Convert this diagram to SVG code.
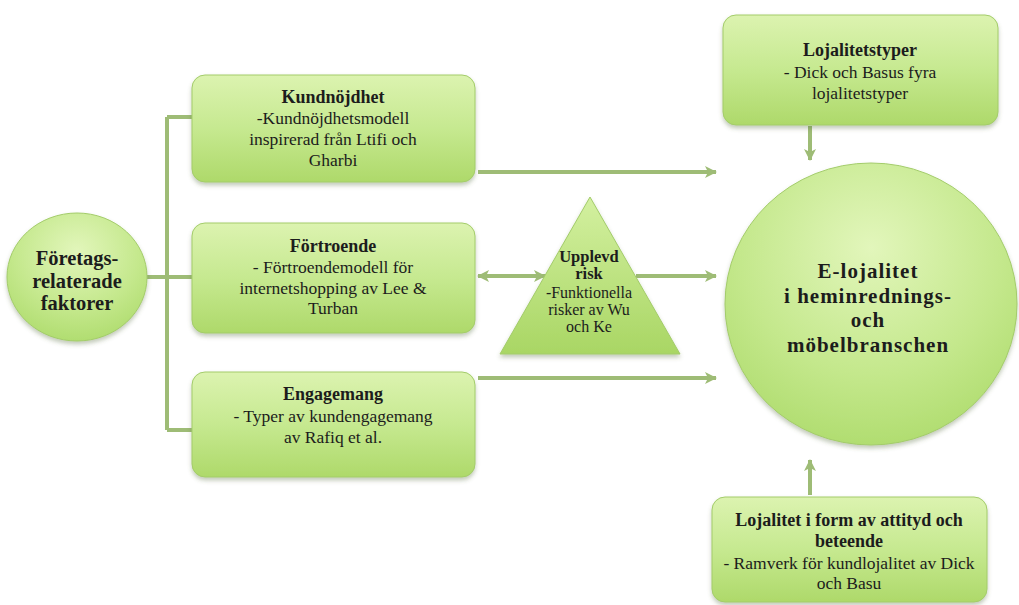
<svg xmlns="http://www.w3.org/2000/svg" width="1019" height="605" viewBox="0 0 1019 605">
  <defs>
    <linearGradient id="boxFill" x1="0" y1="0" x2="0" y2="1">
      <stop offset="0" stop-color="#dcf3b0"/>
      <stop offset="0.5" stop-color="#c6e990"/>
      <stop offset="1" stop-color="#aed96a"/>
    </linearGradient>
    <radialGradient id="ballFill" cx="0.5" cy="0.3" r="0.75">
      <stop offset="0" stop-color="#e2f6bb"/>
      <stop offset="0.6" stop-color="#c4e88c"/>
      <stop offset="1" stop-color="#addb6b"/>
    </radialGradient>
    <linearGradient id="triFill" x1="0" y1="0" x2="0" y2="1">
      <stop offset="0" stop-color="#d3f0a0"/>
      <stop offset="1" stop-color="#a9d664"/>
    </linearGradient>
    <filter id="shadow" x="-10%" y="-10%" width="120%" height="130%">
      <feDropShadow dx="0" dy="3" stdDeviation="2" flood-color="#556b3a" flood-opacity="0.35"/>
    </filter>
    <marker id="head" viewBox="0 0 12 12" refX="11" refY="6" markerWidth="12" markerHeight="12" markerUnits="userSpaceOnUse" orient="auto-start-reverse">
      <path d="M0,0 L12,6 L0,12 L3,6 Z" fill="#9ebc76"/>
    </marker>
  </defs>
  <style>
    .node { stroke: #a3cc6a; stroke-width: 1; filter: url(#shadow); }
    .box { fill: url(#boxFill); }
    .ball { fill: url(#ballFill); }
    .wire { fill: none; stroke: #9ebc76; stroke-width: 4; }
    .arrow { marker-end: url(#head); }
    .both { marker-start: url(#head); marker-end: url(#head); }
    text { font-family: "Liberation Serif", "Times New Roman", serif; fill: #1c1c1c; text-anchor: middle; }
    .t { font-size: 17.5px; }
    .h { font-size: 18px; font-weight: bold; }
    .s { font-size: 16px; }
    .sh { font-size: 16.5px; font-weight: bold; }
    .big { font-size: 21px; font-weight: bold; letter-spacing: 1px; }
    .mid { font-size: 20.5px; font-weight: bold; }
  </style>

  <!-- connectors -->
  <g id="connectors">
    <path class="wire" d="M147,277 H192 M167,117 V430 M167,117 H192 M167,430 H192"/>
    <line class="wire arrow" x1="478" y1="172" x2="716" y2="172"/>
    <line class="wire both" x1="478" y1="276" x2="545" y2="276"/>
    <line class="wire arrow" x1="636" y1="276" x2="716" y2="276"/>
    <line class="wire arrow" x1="478" y1="378" x2="716" y2="378"/>
    <line class="wire arrow" x1="810" y1="126" x2="810" y2="160"/>
    <line class="wire arrow" x1="810" y1="495" x2="810" y2="460"/>
  </g>

  <g id="foretag">
    <ellipse class="node ball" cx="77" cy="277" rx="70" ry="64"/>
    <text class="mid" x="77" y="265">Företags-</text>
    <text class="mid" x="77" y="288">relaterade</text>
    <text class="mid" x="77" y="310">faktorer</text>
  </g>

  <g id="kundnojdhet">
    <rect class="node box" x="192" y="75" width="283" height="107" rx="13"/>
    <text class="h" x="333" y="103">Kundnöjdhet</text>
    <text class="t" x="333" y="124">-Kundnöjdhetsmodell</text>
    <text class="t" x="333" y="145">inspirerad från Ltifi och</text>
    <text class="t" x="333" y="166">Gharbi</text>
  </g>

  <g id="fortroende">
    <rect class="node box" x="192" y="223" width="283" height="110" rx="13"/>
    <text class="h" x="333" y="252">Förtroende</text>
    <text class="t" x="333" y="273">- Förtroendemodell för</text>
    <text class="t" x="333" y="294">internetshopping av Lee &amp;</text>
    <text class="t" x="333" y="314">Turban</text>
  </g>

  <g id="engagemang">
    <rect class="node box" x="192" y="372" width="283" height="105" rx="13"/>
    <text class="h" x="333" y="400">Engagemang</text>
    <text class="t" x="333" y="422">- Typer av kundengagemang</text>
    <text class="t" x="333" y="443">av Rafiq et al.</text>
  </g>

  <g id="upplevd-risk">
    <polygon class="node" fill="url(#triFill)" points="590,197 500,354 680,354"/>
    <text class="sh" x="589" y="262">Upplevd</text>
    <text class="sh" x="589" y="279">risk</text>
    <text class="s" x="589" y="298">-Funktionella</text>
    <text class="s" x="589" y="315">risker av Wu</text>
    <text class="s" x="589" y="332">och Ke</text>
  </g>

  <g id="lojalitetstyper">
    <rect class="node box" x="723" y="15" width="275" height="110" rx="13"/>
    <text class="h" x="860" y="56">Lojalitetstyper</text>
    <text class="t" x="860" y="78">- Dick och Basus fyra</text>
    <text class="t" x="860" y="99">lojalitetstyper</text>
  </g>

  <g id="e-lojalitet">
    <ellipse class="node ball" cx="871" cy="304" rx="146" ry="141"/>
    <text class="big" x="868" y="278">E-lojalitet</text>
    <text class="big" x="868" y="302.5">i heminrednings-</text>
    <text class="big" x="868" y="327">och</text>
    <text class="big" x="868" y="351.5">möbelbranschen</text>
  </g>

  <g id="attityd-beteende">
    <rect class="node box" x="712" y="497" width="275" height="105" rx="13"/>
    <text class="h" x="849" y="526">Lojalitet i form av attityd och</text>
    <text class="h" x="849" y="547">beteende</text>
    <text class="t" x="849" y="569">- Ramverk för kundlojalitet av Dick</text>
    <text class="t" x="849" y="589">och Basu</text>
  </g>
</svg>
